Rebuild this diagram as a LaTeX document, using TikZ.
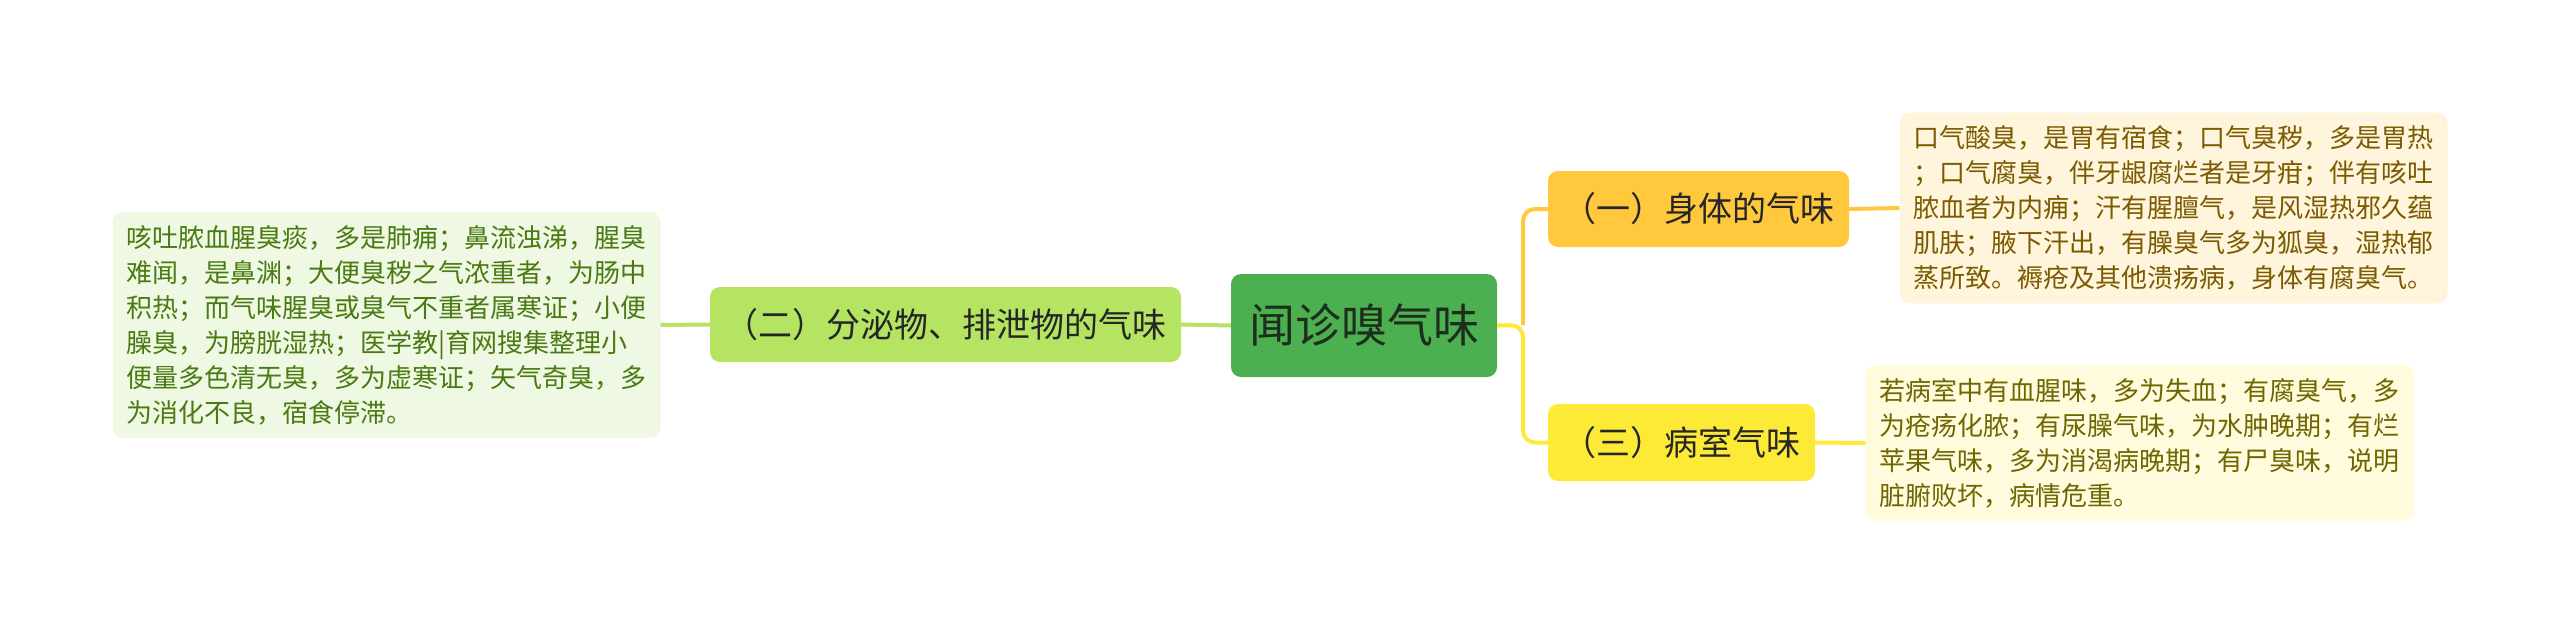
\documentclass[tikz,border=0pt]{standalone}
\usepackage{fontspec}
\setmainfont{Noto Sans CJK SC}
\usetikzlibrary{positioning}
\definecolor{rootfill}{HTML}{4CAF50}
\definecolor{roottext}{HTML}{1D2E1D}
\definecolor{limefill}{HTML}{B5E462}
\definecolor{limeleaf}{HTML}{EFF8E3}
\definecolor{limetext}{HTML}{4A7A12}
\definecolor{amberfill}{HTML}{FFC83D}
\definecolor{amberleaf}{HTML}{FFF5DC}
\definecolor{ambertext}{HTML}{7B5A00}
\definecolor{sunfill}{HTML}{FDEA37}
\definecolor{sunleaf}{HTML}{FFFBDC}
\definecolor{suntext}{HTML}{6E6600}

\begin{document}
\begin{tikzpicture}[x=1pt,y=-1pt,
  topic/.style={rounded corners=10pt,inner sep=0pt,align=center,text=black!85},
  leaf/.style={rounded corners=10pt,inner xsep=14pt,inner ysep=13pt,align=left,font=\fontsize{26}{35}\selectfont},
  link/.style={line width=4pt}]
\useasboundingbox (0,0) rectangle (2560,635);
\node[topic,fill=rootfill,text=roottext,minimum width=266pt,minimum height=103pt,font=\fontsize{46}{50}\selectfont] (root) at (1364,325.5) {闻诊嗅气味};
\node[topic,fill=limefill,minimum width=471pt,minimum height=75pt,font=\fontsize{34}{40}\selectfont] (waste) at (945.5,324.5) {（二）分泌物、排泄物的气味};
\node[topic,fill=amberfill,minimum width=301pt,minimum height=76pt,font=\fontsize{34}{40}\selectfont] (body) at (1698.5,209) {（一）身体的气味};
\node[topic,fill=sunfill,minimum width=267pt,minimum height=77pt,font=\fontsize{34}{40}\selectfont] (room) at (1681.5,442.5) {（三）病室气味};
\node[leaf,fill=limeleaf,text=limetext] (wasteleaf) at (386.5,325) {咳吐脓血腥臭痰，多是肺痈；鼻流浊涕，腥臭\\难闻，是鼻渊；大便臭秽之气浓重者，为肠中\\积热；而气味腥臭或臭气不重者属寒证；小便\\臊臭，为膀胱湿热；医学教|育网搜集整理小\\便量多色清无臭，多为虚寒证；矢气奇臭，多\\为消化不良，宿食停滞。};
\node[leaf,fill=amberleaf,text=ambertext] (bodyleaf) at (2173.5,208) {口气酸臭，是胃有宿食；口气臭秽，多是胃热\\；口气腐臭，伴牙龈腐烂者是牙疳；伴有咳吐\\脓血者为内痈；汗有腥膻气，是风湿热邪久蕴\\肌肤；腋下汗出，有臊臭气多为狐臭，湿热郁\\蒸所致。褥疮及其他溃疡病，身体有腐臭气。};
\node[leaf,fill=sunleaf,text=suntext] (roomleaf) at (2139.5,443) {若病室中有血腥味，多为失血；有腐臭气，多\\为疮疡化脓；有尿臊气味，为水肿晚期；有烂\\苹果气味，多为消渴病晚期；有尸臭味，说明\\脏腑败坏，病情危重。};
\coordinate (fork) at (1523,325);
\draw[link,limefill] (root.west) -- (waste.east);
\draw[link,limefill] (waste.west) -- (wasteleaf.east);
\draw[link,sunfill,rounded corners=12pt] (root.east) -- (fork) |- (room.west);
\draw[link,amberfill,rounded corners=12pt] (fork) |- (body.west);
\draw[link,amberfill] (body.east) -- (bodyleaf.west);
\draw[link,sunfill] (room.east) -- (roomleaf.west);
\end{tikzpicture}
\end{document}
